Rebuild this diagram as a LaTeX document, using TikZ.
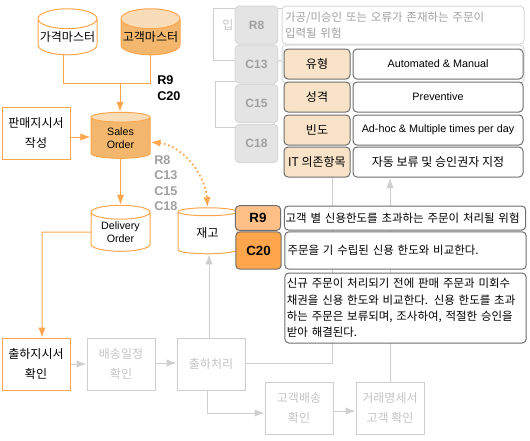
\documentclass[tikz,border=0pt]{standalone}
\usepackage{fontspec}
\setmainfont{Liberation Sans}
\newfontfamily\kr{Noto Sans CJK KR}
\usetikzlibrary{arrows.meta,shapes.geometric}
\definecolor{org}{HTML}{FFA64D}
\definecolor{orgfill}{HTML}{F2B76C}
\definecolor{orgtop}{HTML}{F9DDB9}
\definecolor{orglight}{HTML}{FFC088}
\definecolor{lgray}{HTML}{CFCFCF}
\definecolor{ltext}{HTML}{C4C4C4}
\definecolor{badgefill}{HTML}{E4E4E4}
\definecolor{badgeline}{HTML}{D8D8D8}
\definecolor{badgetext}{HTML}{A0A0A0}
\definecolor{panelline}{HTML}{6E6E6E}
\definecolor{panelfill}{HTML}{F9E3C8}
\tikzset{
  cyl/.style={cylinder,shape border rotate=90,aspect=0.36,draw=org,line width=0.75pt,
    minimum width=44.25pt,minimum height=34.5pt,inner sep=0pt,align=center,font=\kr\fontsize{9}{10.5}\selectfont,anchor=center},
  cylw/.style={cyl,cylinder uses custom fill,cylinder body fill=white,cylinder end fill=white},
  cylo/.style={cyl,cylinder uses custom fill,cylinder body fill=orgfill,cylinder end fill=orgtop},
  cylg/.style={cyl,draw=lgray,cylinder uses custom fill,cylinder body fill=white,cylinder end fill=white},
  latin/.style={font=\rmfamily\fontsize{8}{9.4}\selectfont},
  procbox/.style={draw=org,line width=0.75pt,fill=white,minimum width=51pt,minimum height=39pt,inner sep=0pt,align=center,
    font=\kr\fontsize{9}{14.5}\selectfont,anchor=center},
  grbox/.style={procbox,draw=lgray,text=ltext},
  oline/.style={draw=org,line width=0.75pt},
  oarrow/.style={oline,-{Latex[length=7.5pt,width=5.5pt]},shorten >=0pt},
  gline/.style={draw=lgray,line width=0.75pt},
  garrow/.style={gline,-{Latex[length=7.5pt,width=5.5pt]}},
  badge/.style={draw=badgeline,fill=badgefill,rounded corners=3pt,line width=0.75pt,text=badgetext,anchor=center,
    font=\bfseries\fontsize{9}{10}\selectfont,minimum width=32pt,minimum height=28.5pt,inner sep=0pt},
  badger/.style={badge,draw=panelline,text=black,font=\bfseries\fontsize{10}{11}\selectfont,minimum height=18.5pt,minimum width=34pt},
  panel/.style={draw=panelline,fill=white,rounded corners=3pt,line width=0.75pt,anchor=center,inner sep=0pt,
    minimum height=22.5pt,font=\fontsize{8.1}{10}\selectfont,align=center},
  head/.style={panel,fill=panelfill,minimum width=49.5pt,font=\kr\fontsize{9}{10}\selectfont},
  val/.style={panel,minimum width=127.5pt},
  txt/.style={panel,minimum width=181pt,font=\kr\fontsize{8.6}{12.2}\selectfont,align=left},
  rc/.style={inner sep=0pt,font=\bfseries\fontsize{9.5}{12}\selectfont,anchor=west}
}
\begin{document}
\begin{tikzpicture}[x=0.75pt,y=-0.75pt]
\useasboundingbox (0,0) rectangle (530,440);
% faded background
\node[grbox,minimum width=60pt,anchor=north west] (ipbox) at (213,8) {};
\node[text=ltext,font=\kr\fontsize{9}{10}\selectfont] (iptxt) at (228,25) {입};
\node[cylg,minimum height=34.5pt] (gcyl) at (245,105) {};
\node[grbox] (bae) at (121,364) {배송일정\\확인};
\node[grbox] (chul) at (211,364) {출하처리};
\node[grbox] (gobae) at (299,408) {고객배송\\확인};
\node[grbox] (geo) at (390,408) {거래명세서\\고객 확인};
% masters
\node[cylw] (price) at (67.5,37) {가격마스터};
\node[cylo] (cust) at (150.5,37) {고객마스터};
\node[cylo,latin] (so) at (120.5,138) {Sales\\Order};
\node[cylw,latin] (do) at (120.5,232) {Delivery\\Order};
\node[cylw] (stock) at (207.5,233) {재고};
\node[procbox] (pan) at (36,133) {판매지시서\\작성};
\node[procbox] (chk) at (36,364) {출하지시서\\확인};
% connectors
\coordinate (j1) at (120,83);
\draw[oline] (price.south -| 63.5,0) |- (j1);
\draw[oline] (cust.south -| 150.5,0) |- (j1);
\draw[oarrow] (j1) -- (so.north -| j1);
\draw[oarrow] (pan.east |- 0,137) -- (so.west |- 0,137);
\draw[oarrow] (so.south) -- (do.north);
\coordinate (dl) at (42,232);
\draw[oarrow] (do.west) -- (dl) -- (chk.north -| dl);
\draw[line width=1.3pt,draw=org,dotted,{Latex[length=7.5pt,width=5.5pt]}-{Latex[length=7.5pt,width=5.5pt]}] (so.east |- 0,142) .. controls (185,146) and (206,178) .. (stock.north);
\draw[garrow] (chk.east) -- (bae.west);
\draw[garrow] (bae.east |- 0,363) -- (chul.west |- 0,363);
\draw[garrow] (chul.north -| 209,0) -- (stock.south -| 209,0);
\coordinate (j2) at (332,363);
\coordinate (j3) at (332,160);
\draw[gline] (chul.east |- j2) -- (j2) -- (j3);
\coordinate (j4) at (207,413);
\draw[garrow] (chul.south -| j4) -- (j4) -- (gobae.west |- j4);
\draw[garrow] (gobae.east |- 0,411) -- (geo.west |- 0,411);
% panels
\node[badge] (r8) at (256.5,25) {R8};
\node[badge] (c13) at (256.5,64) {C13};
\node[badge] (c15) at (256.5,103.5) {C15};
\node[badge] (c18) at (256.5,143.5) {C18};
\node[panel,draw=badgeline,minimum width=181.5pt,minimum height=28.5pt,text=badgetext,font=\kr\fontsize{8.6}{12.2}\selectfont,align=left,text width=177pt] (r8t) at (403,25) {가공/미승인 또는 오류가 존재하는 주문이\\입력될 위험};
\node[panel,draw=badgeline,minimum width=181.5pt,minimum height=28.5pt] (c13t) at (403,64) {};
\draw[garrow] (geo.north) -- (390,178);
\node[head] (h1) at (317,64) {유형};
\node[head] (h2) at (317,97) {성격};
\node[head] (h3) at (317,130) {빈도};
\node[head] (h4) at (317,162) {IT 의존항목};
\node[val] (v1) at (438,64) {Automated \& Manual};
\node[val] (v2) at (438,97) {Preventive};
\node[val] (v3) at (438,130) {Ad-hoc \& Multiple times per day};
\node[val,font=\kr\fontsize{9}{10}\selectfont] (v4) at (438,162) {자동 보류 및 승인권자 지정};
\node[badger,fill=orglight] (r9) at (258,218) {R9};
\node[badger,fill=org,minimum height=28pt] (c20) at (258.5,250.5) {C20};
\node[txt,minimum height=18pt,text width=179pt] (r9t) at (405,218) {고객 별 신용한도를 초과하는 주문이 처리될 위험};
\node[txt,minimum height=28pt,text width=177pt] (c20t) at (405.5,250.5) {주문을 기 수립된 신용 한도와 비교한다.};
\node[txt,minimum height=52.5pt,text width=178pt] (long) at (405.5,308) {신규 주문이 처리되기 전에 판매 주문과 미회수\\채권을 신용 한도와 비교한다. 신용 한도를 초과\\하는 주문은 보류되며, 조사하여, 적절한 승인을\\받아 해결된다.};
% labels
\node[rc] (l1) at (157,80) {R9};
\node[rc] (l2) at (157,96) {C20};
\node[rc,text=badgetext] (l3) at (154,160) {R8};
\node[rc,text=badgetext] (l4) at (154,175) {C13};
\node[rc,text=badgetext] (l5) at (154,191) {C15};
\node[rc,text=badgetext] (l6) at (154,206) {C18};
\end{tikzpicture}
\end{document}
